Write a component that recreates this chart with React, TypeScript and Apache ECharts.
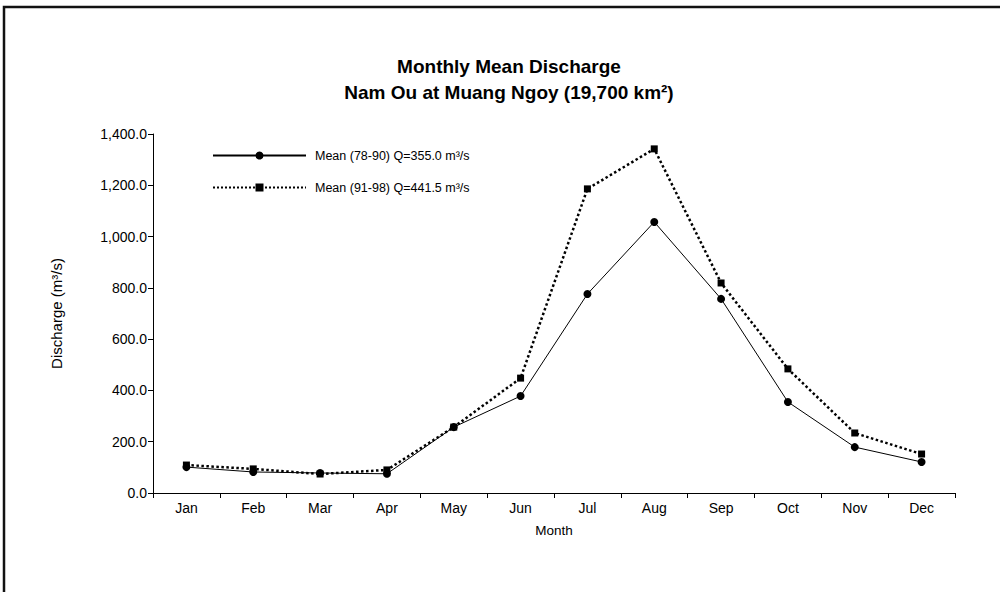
import React, { useEffect, useRef } from "react";
import * as echarts from "echarts";

const months = ["Jan", "Feb", "Mar", "Apr", "May", "Jun", "Jul", "Aug", "Sep", "Oct", "Nov", "Dec"];
const mean7890 = [101, 82, 78, 75, 257, 378, 776, 1057, 757, 355, 179, 121];
const mean9198 = [109, 94, 74, 90, 257, 448, 1186, 1342, 819, 484, 234, 152];
const seriesNames = ["Mean (78-90) Q=355.0 m³/s", "Mean (91-98) Q=441.5 m³/s"];
const titleLines = ["Monthly Mean Discharge", "Nam Ou at Muang Ngoy (19,700 km²)"];

const FONT = "'Liberation Sans', Arial, sans-serif";

export default function App() {
  const ref = useRef<HTMLDivElement>(null);
  useEffect(() => {
    if (!ref.current) return;
    const chart = echarts.init(ref.current, null, { renderer: "svg" });
    chart.setOption({
      animation: false,
      backgroundColor: "#ffffff",
      textStyle: { fontFamily: FONT, color: "#000" },
      graphic: [
        {
          type: "rect",
          shape: { x: 4, y: 7, width: 1010, height: 600 },
          style: { fill: "none", stroke: "#111", lineWidth: 2.5 },
          silent: true,
        },
        {
          type: "text",
          x: 509,
          y: 53,
          silent: true,
          style: {
            text: titleLines.join("\n"),
            textAlign: "center",
            fontFamily: FONT,
            fontSize: 19,
            fontWeight: "bold",
            lineHeight: 26,
            fill: "#000",
          },
        },
      ],
      legend: {
        orient: "vertical",
        left: 212,
        top: 149,
        padding: 0,
        itemWidth: 93,
        itemHeight: 10,
        itemGap: 19,
        textStyle: { fontFamily: FONT, fontSize: 12.5, color: "#000", padding: [0, 0, 0, 4] },
        data: seriesNames,
      },
      grid: { left: 153, right: 45, top: 134, bottom: 99, containLabel: false },
      xAxis: {
        type: "category",
        data: months,
        boundaryGap: true,
        name: "Month",
        nameLocation: "middle",
        nameGap: 30,
        nameTextStyle: { fontFamily: FONT, fontSize: 13.5, color: "#000" },
        axisLine: { lineStyle: { color: "#000", width: 1 } },
        axisTick: { show: true, length: 5, lineStyle: { color: "#000" } },
        axisLabel: { fontFamily: FONT, fontSize: 14, color: "#000", margin: 8 },
        splitLine: { show: false },
      },
      yAxis: {
        type: "value",
        min: 0,
        max: 1400,
        interval: 200,
        name: "Discharge (m³/s)",
        nameLocation: "middle",
        nameGap: 89,
        nameTextStyle: { fontFamily: FONT, fontSize: 15, color: "#000" },
        axisLine: { show: true, lineStyle: { color: "#000", width: 1 } },
        axisTick: { show: true, length: 5, lineStyle: { color: "#000" } },
        axisLabel: {
          fontFamily: FONT,
          fontSize: 14,
          color: "#000",
          margin: 6,
          formatter: (v: number) =>
            v.toLocaleString("en-US", { minimumFractionDigits: 1, maximumFractionDigits: 1 }),
        },
        splitLine: { show: false },
      },
      series: [
        {
          name: seriesNames[0],
          type: "line",
          data: mean7890,
          symbol: "circle",
          symbolSize: 8,
          lineStyle: { color: "#000", width: 1, type: "solid" },
          itemStyle: { color: "#000" },
        },
        {
          name: seriesNames[1],
          type: "line",
          data: mean9198,
          symbol: "rect",
          symbolSize: 7,
          lineStyle: { color: "#000", width: 2.5, type: "dotted" },
          itemStyle: { color: "#000" },
        },
      ],
    });
    return () => chart.dispose();
  }, []);
  return (
    <div
      ref={ref}
      style={{ position: "absolute", left: 0, top: 0, width: 1000, height: 592 }}
    />
  );
}
